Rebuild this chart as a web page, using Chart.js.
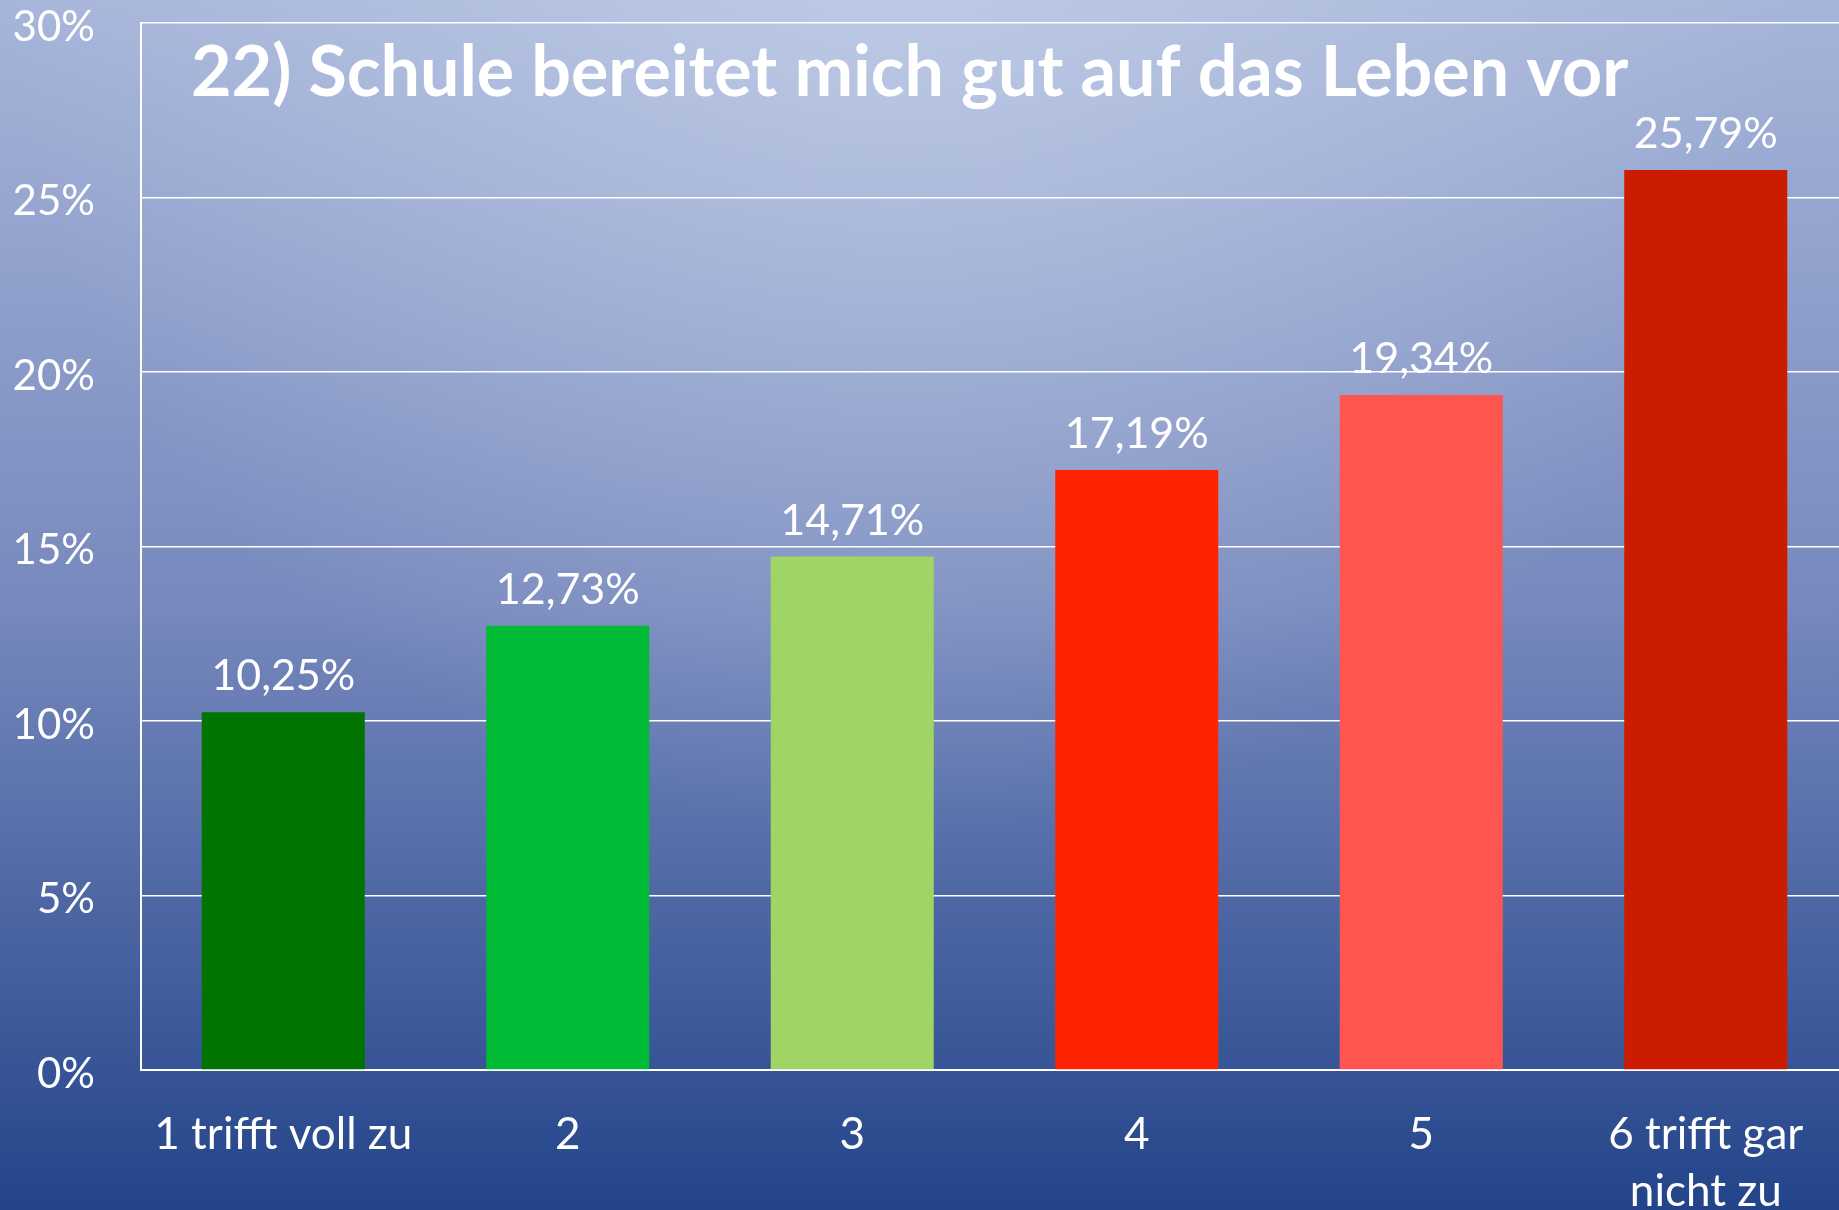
<!DOCTYPE html>
<html lang="de">
<head>
<meta charset="utf-8">
<title>Schule bereitet mich gut auf das Leben vor</title>
<script src="https://cdn.jsdelivr.net/npm/chart.js@4.4.1/dist/chart.umd.min.js"></script>
<style>
  html, body { margin: 0; padding: 0; overflow: hidden; background: #26468b; }
  #wrap { width: 1848px; height: 1210px; }
</style>
</head>
<body>
<div id="wrap"><canvas id="surveyChart" width="1848" height="1210"></canvas></div>
<script>
'use strict';

/* ---- data ---- */
const chartTitle = '22) Schule bereitet mich gut auf das Leben vor';
const categories = ['1 trifft voll zu', '2', '3', '4', '5', ['6 trifft gar', 'nicht zu']];
const shares = [10.25, 12.73, 14.71, 17.19, 19.34, 25.79];
const barColors = ['#007300', '#00bb36', '#a0d464', '#ff2400', '#ff5550', '#cc1c00'];
const yTicks = [0, 5, 10, 15, 20, 25, 30];

const FONT = 'Lato, "Open Sans", sans-serif';
const fmt = v => v.toFixed(2).replace('.', ',') + '%';

/* ---- background: vertical blue gradient with light spot at top centre ---- */
const backdrop = {
    id: 'backdrop',
    beforeDraw(chart) {
        const { ctx, width, height } = chart;
        ctx.save();
        const lin = ctx.createLinearGradient(0, 0, 0, height);
        lin.addColorStop(0, '#a6b5d9');
        lin.addColorStop(0.5, '#7789bd');
        lin.addColorStop(1, '#23448a');
        ctx.fillStyle = lin;
        ctx.fillRect(0, 0, width, height);
        const rad = ctx.createRadialGradient(900, -60, 0, 900, -60, 900);
        rad.addColorStop(0, 'rgba(210,220,240,0.55)');
        rad.addColorStop(1, 'rgba(210,220,240,0)');
        ctx.fillStyle = rad;
        ctx.fillRect(0, 0, width, height);
        ctx.restore();
    },
};

/* ---- value labels above bars + title inside plot ---- */
const overlays = {
    id: 'overlays',
    afterDatasetsDraw(chart) {
        const { ctx, chartArea } = chart;
        const meta = chart.getDatasetMeta(0);
        ctx.save();
        ctx.fillStyle = '#ffffff';
        ctx.textAlign = 'center';
        ctx.textBaseline = 'alphabetic';
        ctx.font = '43px ' + FONT;
        meta.data.forEach((bar, i) => {
            ctx.fillText(fmt(shares[i]), bar.x, bar.y - 22);
        });
        ctx.textAlign = 'left';
        ctx.font = 'bold 70px ' + FONT;
        ctx.fillText(chartTitle, chartArea.left + 50, chartArea.top + 73);
        ctx.restore();
    },
};

new Chart(document.getElementById('surveyChart').getContext('2d'), {
    type: 'bar',
    data: {
        labels: categories,
        datasets: [{
            data: shares,
            backgroundColor: barColors,
            borderWidth: 0,
            categoryPercentage: 1,
            barPercentage: 0.573,
        }],
    },
    options: {
        responsive: false,
        animation: false,
        events: [],
        layout: { padding: { top: 23, right: 0, left: 0, bottom: 0 } },
        plugins: {
            legend: { display: false },
            tooltip: { enabled: false },
            title: { display: false },
        },
        scales: {
            x: {
                grid: { display: false, drawTicks: false },
                border: { color: '#ffffff', width: 2 },
                ticks: {
                    color: '#ffffff',
                    font: { family: FONT, size: 44, lineHeight: 1.3 },
                    padding: 36,
                    maxRotation: 0,
                    autoSkip: false,
                },
                afterFit: s => { s.height = 140; s.paddingLeft = 0; s.paddingRight = 0; },
            },
            y: {
                min: 0,
                max: 30,
                afterBuildTicks: s => { s.ticks = yTicks.map(v => ({ value: v })); },
                grid: { color: '#ffffff', lineWidth: 1.5, drawTicks: false },
                border: { color: '#ffffff', width: 2 },
                ticks: {
                    color: '#ffffff',
                    font: { family: FONT, size: 42 },
                    padding: 46,
                    labelOffset: 4,
                    callback: v => v + '%',
                },
                afterFit: s => { s.width = 141; s.paddingTop = 0; s.paddingBottom = 0; },
            },
        },
    },
    plugins: [backdrop, overlays],
});
</script>
</body>
</html>
